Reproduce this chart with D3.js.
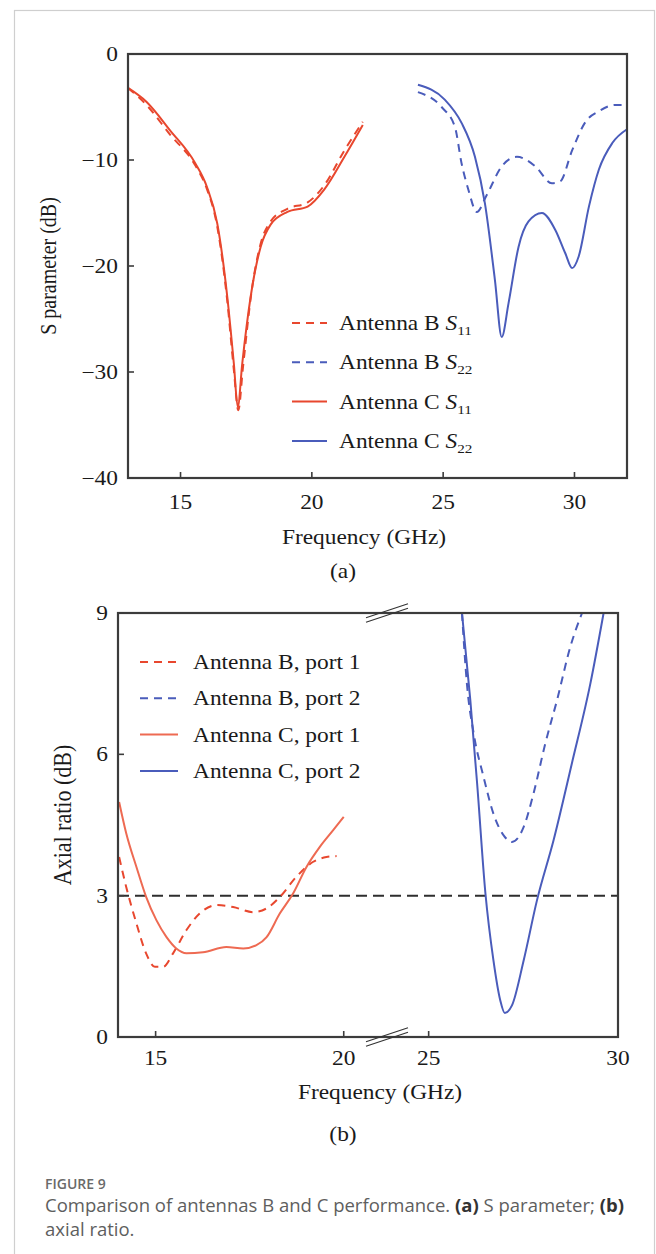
<!DOCTYPE html>
<html>
<head>
<meta charset="utf-8">
<script src="https://cdn.jsdelivr.net/npm/d3@7"></script>
<style>
  html, body { margin: 0; padding: 0; background: #fff; }
  svg { display: block; }
</style>
</head>
<body>
<div id="chart"></div>
<script>
// ---------- data: (a) S parameter ----------
const sB11 = [[13.0,-3.2],[13.7,-4.8],[14.6,-7.6],[15.56,-10.5],[16.0,-12.7],[16.4,-16.3],[16.78,-23.3],[17.03,-29.8],[17.2,-33.6],[17.38,-29.5],[17.7,-22.5],[18.05,-17.9],[18.43,-15.8],[19.07,-14.6],[19.84,-14.0],[20.47,-12.4],[21.24,-9.1],[21.94,-6.4]];
const sB22 = [[24.04,-3.6],[24.94,-5.0],[25.45,-6.9],[25.7,-10.3],[25.96,-12.8],[26.28,-14.9],[26.66,-13.3],[27.23,-10.6],[27.81,-9.7],[28.51,-10.6],[29.14,-12.2],[29.46,-12.0],[29.91,-9.1],[30.42,-6.4],[30.93,-5.4],[31.56,-4.8],[32.0,-4.8]];
const sC11 = [[13.0,-3.2],[13.7,-4.5],[14.6,-7.2],[15.56,-10.3],[16.0,-12.5],[16.4,-16.0],[16.78,-22.9],[17.03,-29.2],[17.18,-33.3],[17.35,-29.2],[17.67,-22.9],[18.05,-18.2],[18.43,-16.1],[19.07,-14.9],[19.84,-14.4],[20.47,-12.8],[21.24,-9.7],[21.94,-6.7]];
const sC22 = [[24.04,-2.9],[25.06,-4.3],[25.7,-6.5],[26.21,-9.7],[26.59,-14.1],[26.97,-21.3],[27.23,-26.7],[27.49,-23.5],[27.87,-18.2],[28.25,-15.8],[28.76,-15.0],[29.27,-16.6],[29.65,-18.8],[29.91,-20.2],[30.16,-19.1],[30.55,-14.4],[30.93,-10.9],[31.44,-8.4],[32.0,-7.1]];
const sXTicks = [15, 20, 25, 30];
const sYTicks = [0, -10, -20, -30, -40];

// ---------- data: (b) axial ratio ----------
const arB1 = [[14.03,3.82],[14.22,3.18],[14.49,2.41],[14.75,1.77],[14.98,1.49],[15.2,1.49],[15.46,1.77],[15.82,2.27],[16.17,2.62],[16.62,2.80],[17.06,2.76],[17.59,2.65],[17.95,2.73],[18.3,2.97],[18.74,3.40],[19.19,3.72],[19.54,3.82],[19.81,3.84]];
const arB2 = [[25.88,9.0],[26.01,7.5],[26.19,6.44],[26.45,5.52],[26.71,4.74],[26.98,4.28],[27.2,4.14],[27.51,4.46],[27.77,5.17],[28.08,6.23],[28.39,7.15],[28.74,8.28],[29.05,9.0]];
const arC1 = [[14.03,4.99],[14.22,4.32],[14.49,3.61],[14.75,2.97],[15.02,2.48],[15.29,2.12],[15.55,1.88],[15.82,1.78],[16.26,1.80],[16.88,1.91],[17.33,1.88],[17.68,1.95],[17.95,2.12],[18.3,2.62],[18.65,3.04],[19.01,3.61],[19.36,4.03],[19.72,4.39],[20.0,4.67]];
const arC2 = [[25.88,9.0],[26.1,7.15],[26.28,5.38],[26.5,3.04],[26.71,1.63],[26.89,0.78],[27.01,0.51],[27.2,0.67],[27.51,1.63],[27.86,2.90],[28.3,4.18],[28.78,5.80],[29.27,7.50],[29.62,9.0]];
const arXTicks = [15, 20, 25, 30];
const arYTicks = [0, 3, 6, 9];
const arThreshold = 3;

const legendA = [
  { name: 'Antenna B ', sub: '11', color: 'red', dash: true },
  { name: 'Antenna B ', sub: '22', color: 'blue', dash: true },
  { name: 'Antenna C ', sub: '11', color: 'red', dash: false },
  { name: 'Antenna C ', sub: '22', color: 'blue', dash: false }
];
const legendB = [
  { name: 'Antenna B, port 1', color: 'red', dash: true },
  { name: 'Antenna B, port 2', color: 'blue', dash: true },
  { name: 'Antenna C, port 1', color: 'salmon', dash: false },
  { name: 'Antenna C, port 2', color: 'blue', dash: false }
];

// ---------- style ----------
const COLORS = { red: '#e8472e', blue: '#4a5cbb', salmon: '#ee6a52' };
const SERIF = '"Liberation Serif", "Times New Roman", serif';
const SX = 1.17;           // the source figure is horizontally stretched
const FRAME = '#3c3c3c';
const DASH = '8,6';

const svg = d3.select('#chart').append('svg')
  .attr('width', 656)
  .attr('height', 1254);

// card border
svg.append('rect')
  .attr('x', 14.5).attr('y', 10.5)
  .attr('width', 640).attr('height', 1260)
  .attr('fill', '#fff')
  .attr('stroke', '#cfcfcf')
  .attr('stroke-width', 1.2);

function label(g, x, y, s, anchor = 'middle', size = 20) {
  return g.append('text')
    .attr('transform', `translate(${x},${y}) scale(${SX},1)`)
    .attr('text-anchor', anchor)
    .attr('font-family', SERIF)
    .attr('font-size', size)
    .attr('fill', '#1a1a1a')
    .text(s);
}

function yLabel(g, x, y, s, size) {
  return g.append('text')
    .attr('transform', `translate(${x},${y}) rotate(-90) scale(1,${SX})`)
    .attr('text-anchor', 'middle')
    .attr('font-family', SERIF)
    .attr('font-size', size)
    .attr('fill', '#1a1a1a')
    .text(s);
}

function drawSeries(g, data, x, y, color, dashed) {
  const line = d3.line()
    .x(d => x(d[0]))
    .y(d => y(d[1]))
    .curve(d3.curveMonotoneX);
  g.append('path')
    .datum(data)
    .attr('fill', 'none')
    .attr('stroke', color)
    .attr('stroke-width', 2)
    .attr('stroke-dasharray', dashed ? DASH : null)
    .attr('d', line);
}

function frame(g, x0, x1, y0, y1) {
  g.append('rect')
    .attr('x', x0).attr('y', y0)
    .attr('width', x1 - x0).attr('height', y1 - y0)
    .attr('fill', 'none')
    .attr('stroke', FRAME)
    .attr('stroke-width', 2.2);
}

// ==========================================
// (a) S parameter
// ==========================================
(function () {
  const g = svg.append('g');
  const x = d3.scaleLinear().domain([13, 32]).range([128, 627]);
  const y = d3.scaleLinear().domain([-40, 0]).range([478, 54]);

  drawSeries(g, sB11, x, y, COLORS.red, true);
  drawSeries(g, sB22, x, y, COLORS.blue, true);
  drawSeries(g, sC11, x, y, COLORS.red, false);
  drawSeries(g, sC22, x, y, COLORS.blue, false);

  frame(g, x.range()[0], x.range()[1], y.range()[1], y.range()[0]);

  // inward ticks
  sXTicks.forEach(t => {
    g.append('line')
      .attr('x1', x(t)).attr('x2', x(t))
      .attr('y1', y(-40)).attr('y2', y(-40) - 6)
      .attr('stroke', FRAME).attr('stroke-width', 1.6);
    label(g, x(t), 509, String(t));
  });
  const fmt = d3.format('d');
  sYTicks.forEach(t => {
    g.append('line')
      .attr('x1', x(13)).attr('x2', x(13) + 6)
      .attr('y1', y(t)).attr('y2', y(t))
      .attr('stroke', FRAME).attr('stroke-width', 1.6);
    label(g, 118, y(t) + 7, fmt(t), 'end');
  });

  label(g, 364, 544, 'Frequency (GHz)');
  yLabel(g, 56, 266, 'S parameter (dB)', 20);
  label(g, 343, 578, '(a)');

  // legend
  legendA.forEach((d, i) => {
    const cy = 323 + i * 39.3;
    g.append('line')
      .attr('x1', 292).attr('x2', 327)
      .attr('y1', cy).attr('y2', cy)
      .attr('stroke', COLORS[d.color]).attr('stroke-width', 2)
      .attr('stroke-dasharray', d.dash ? DASH : null);
    const t = label(g, 339, cy + 7, '', 'start');
    t.append('tspan').text(d.name);
    t.append('tspan').attr('font-style', 'italic').text('S');
    t.append('tspan').attr('font-size', 13).attr('dy', 5).text(d.sub);
  });
})();

// ==========================================
// (b) Axial ratio, broken x axis
// ==========================================
(function () {
  const g = svg.append('g');
  const x = d3.scaleLinear().domain([14, 21.15, 23.9, 30]).range([118, 387, 387, 618]);
  const y = d3.scaleLinear().domain([0, 9]).range([1037, 613]);
  const left = 118, right = 618, top = 613, bottom = 1037;

  // 3 dB reference
  g.append('line')
    .attr('x1', left).attr('x2', right)
    .attr('y1', y(arThreshold)).attr('y2', y(arThreshold))
    .attr('stroke', '#2e2e2e').attr('stroke-width', 2)
    .attr('stroke-dasharray', '11,6');

  drawSeries(g, arB1, x, y, COLORS.red, true);
  drawSeries(g, arB2, x, y, COLORS.blue, true);
  drawSeries(g, arC1, x, y, COLORS.salmon, false);
  drawSeries(g, arC2, x, y, COLORS.blue, false);

  frame(g, left, right, top, bottom);

  // break marks on top and bottom edges
  [top, bottom].forEach(yy => {
    [-2.2, 2.2].forEach(off => {
      g.append('line')
        .attr('x1', 366).attr('y1', yy + 7 + off)
        .attr('x2', 408).attr('y2', yy - 7 + off)
        .attr('stroke', '#333').attr('stroke-width', 1.2);
    });
  });

  arXTicks.forEach(t => {
    g.append('line')
      .attr('x1', x(t)).attr('x2', x(t))
      .attr('y1', bottom).attr('y2', bottom - 6)
      .attr('stroke', FRAME).attr('stroke-width', 1.6);
    label(g, x(t), 1065, String(t));
  });
  arYTicks.forEach(t => {
    g.append('line')
      .attr('x1', left).attr('x2', left + 6)
      .attr('y1', y(t)).attr('y2', y(t))
      .attr('stroke', FRAME).attr('stroke-width', 1.6);
    label(g, 108, y(t) + 7, String(t), 'end');
  });

  label(g, 380, 1099, 'Frequency (GHz)');
  yLabel(g, 71, 815, 'Axial ratio (dB)', 22);
  label(g, 343, 1141, '(b)');

  legendB.forEach((d, i) => {
    const cy = 662 + i * 36.3;
    g.append('line')
      .attr('x1', 140).attr('x2', 178)
      .attr('y1', cy).attr('y2', cy)
      .attr('stroke', COLORS[d.color]).attr('stroke-width', 2)
      .attr('stroke-dasharray', d.dash ? DASH : null);
    label(g, 193, cy + 7, d.name, 'start');
  });
})();

// ---------- caption ----------
const cap = svg.append('g')
  .attr('font-family', '"Open Sans", "Noto Sans", sans-serif')
  .attr('fill', '#5e5e5e');
cap.append('text')
  .attr('x', 45).attr('y', 1189)
  .attr('font-size', 14).attr('font-weight', 600)
  .attr('fill', '#6a6a6a')
  .text('FIGURE 9');
const l1 = cap.append('text').attr('x', 45).attr('y', 1212).attr('font-size', 18.5);
l1.append('tspan').text('Comparison of antennas B and C performance. ');
l1.append('tspan').attr('font-weight', 700).attr('fill', '#333').text('(a)');
l1.append('tspan').text(' S parameter; ');
l1.append('tspan').attr('font-weight', 700).attr('fill', '#333').text('(b)');
cap.append('text')
  .attr('x', 45).attr('y', 1236).attr('font-size', 18.5)
  .text('axial ratio.');
</script>
</body>
</html>
